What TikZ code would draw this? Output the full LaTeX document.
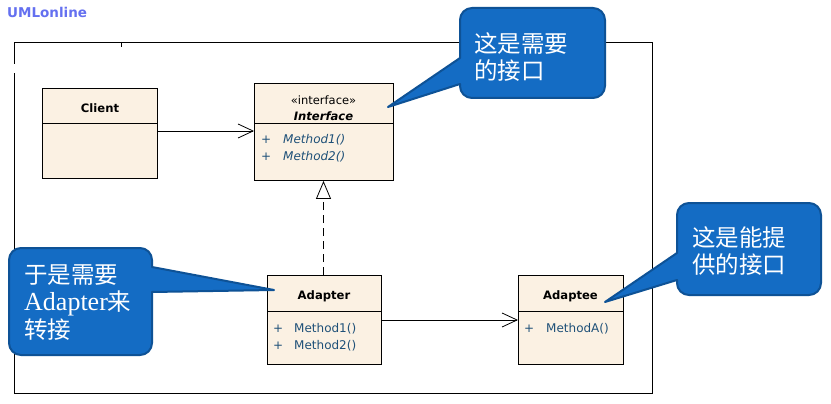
\documentclass[tikz,border=0pt]{standalone}
\usepackage{fontspec}
\usetikzlibrary{arrows.meta}
\newfontfamily\cjk{Noto Sans CJK SC}
\newfontfamily\dvs{DejaVu Sans}
\newfontfamily\lser{Liberation Serif}
\definecolor{boxfill}{RGB}{251,241,227}
\definecolor{calfill}{RGB}{20,108,196}
\definecolor{caldraw}{RGB}{14,82,150}
\definecolor{methcol}{RGB}{30,80,120}
\definecolor{logocol}{RGB}{100,112,240}
\tikzset{
  umlbox/.style={draw=black, line width=0.9pt, fill=boxfill, anchor=north west, inner sep=0pt},
  ttl/.style={font=\dvs\bfseries\fontsize{11.6}{13}\selectfont, inner sep=0pt},
  meth/.style={font=\dvs\fontsize{12}{14}\selectfont, text=methcol, anchor=west, inner sep=0pt},
  imeth/.style={meth, font=\dvs\itshape\fontsize{12}{14}\selectfont},
  callout/.style={fill=calfill, draw=caldraw, line width=2pt, line join=round},
  caltext/.style={font=\cjk\fontsize{23.5}{28}\selectfont, text=white, anchor=west, inner sep=0pt, align=left},
  conn/.style={line width=0.8pt, -{Straight Barb[length=15pt,width=14pt,line width=0.8pt]}},
  real/.style={line width=0.8pt, dash pattern=on 8pt off 5pt, -{Triangle[open,length=18pt,width=15pt,line width=0.8pt]}}
}
\begin{document}
\begin{tikzpicture}[x=1pt,y=-1pt]
\useasboundingbox[fill=white] (0,0) rectangle (831,404);
% logo
\node[font=\dvs\bfseries\fontsize{13.5}{15}\selectfont, text=logocol, anchor=west, inner sep=0pt] (logo) at (7,12) {UMLonline};
% frame
\draw[line width=0.9pt] (14,64) -- (14,42) -- (652,42) -- (652,393) -- (14,393) -- (14,73);
\draw[line width=0.9pt] (121,42) -- (121,47);
% Client
\node[umlbox, minimum width=115pt, minimum height=90pt] (client) at (42,88) {};
\draw[line width=0.9pt] (42,123) -- (157,123);
\node[ttl] (clientt) at (100,108) {Client};
% Interface
\node[umlbox, minimum width=139pt, minimum height=97pt] (iface) at (254,83) {};
\draw[line width=0.9pt] (254,123) -- (393,123);
\node[font=\dvs\fontsize{11.5}{13}\selectfont, inner sep=0pt] (stereo) at (323.5,100) {«interface»};
\node[font=\dvs\bfseries\itshape\fontsize{11.6}{13}\selectfont, inner sep=0pt] (ifacet) at (323.5,116) {Interface};
\node[meth] (ip1) at (261,140) {+};
\node[imeth] (im1) at (283,140) {Method1()};
\node[meth] (ip2) at (261,157) {+};
\node[imeth] (im2) at (283,157) {Method2()};
% Adapter
\node[umlbox, minimum width=114pt, minimum height=89pt] (adapter) at (267,275) {};
\draw[line width=0.9pt] (267,311) -- (381,311);
\node[ttl] (adaptert) at (324,296) {Adapter};
\node[meth] (ap1) at (273,329) {+};
\node[meth] (am1) at (294,329) {Method1()};
\node[meth] (ap2) at (273,346) {+};
\node[meth] (am2) at (294,346) {Method2()};
% Adaptee
\node[umlbox, minimum width=105pt, minimum height=89pt] (adaptee) at (518,275) {};
\draw[line width=0.9pt] (518,311) -- (623,311);
\node[ttl] (adapteet) at (570.5,296) {Adaptee};
\node[meth] (bp1) at (524,329) {+};
\node[meth] (bm1) at (546,329) {MethodA()};
% connectors
\draw[conn] (client.east |- 0,131) -- (iface.west |- 0,131);
\draw[conn] (adapter.east |- 0,320) -- (adaptee.west |- 0,320);
\draw[real] (adapter.north -| 323.5,0) -- (iface.south -| 323.5,0);
% callouts
\draw[callout] (388,107) -- (460,58) [rounded corners=12pt] -- (460,8) -- (605,8) -- (605,98) -- (460,98) [sharp corners] -- (460,84) -- cycle;
\node[caltext] (c1a) at (474,44) {这是需要};
\node[caltext] (c1b) at (474,71) {的接口};
\draw[callout] (274,290) -- (152,292) [rounded corners=12pt] -- (152,355) -- (9,355) -- (9,248) -- (152,248) [sharp corners] -- (152,267) -- cycle;
\node[caltext] (c2a) at (24,275) {于是需要};
\node[caltext] (c2b) at (24,303) {{\lser\fontsize{26}{28}\selectfont Adapter}来};
\node[caltext] (c2c) at (24,330) {转接};
\draw[callout] (605,302) -- (677,280) [rounded corners=12pt] -- (677,295) -- (821,295) -- (821,203) -- (677,203) [sharp corners] -- (677,253) -- cycle;
\node[caltext] (c3a) at (692,238) {这是能提};
\node[caltext] (c3b) at (692,265) {供的接口};
\end{tikzpicture}
\end{document}
